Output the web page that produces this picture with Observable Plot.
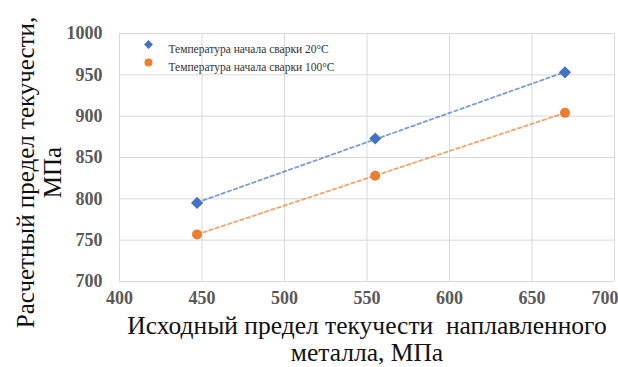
<!DOCTYPE html>
<html>
<head>
<meta charset="utf-8">
<script src="https://cdn.jsdelivr.net/npm/d3@7"></script>
<script src="https://cdn.jsdelivr.net/npm/@observablehq/plot@0.6"></script>
<style>
  html, body { margin: 0; padding: 0; background: #fff; }
</style>
</head>
<body>
<div id="chart"></div>
<script>
const seriesNames = ["Температура начала сварки 20°С", "Температура начала сварки 100°С"];
const xValues = [447, 555, 670];
const series20 = [795, 873, 953];
const series100 = [757, 828, 904];
const xTicks = [400, 450, 500, 550, 600, 650, 700];
const yTicks = [700, 750, 800, 850, 900, 950, 1000];
const yLabel = "Расчетный предел текучести,\nМПа";
const xLabel = "Исходный предел текучести  наплавленного\nметалла, МПа";
const colors = ["#4472C4", "#ED7D31"];

const data = [
  ...xValues.map((x, i) => ({x, y: series20[i], s: seriesNames[0]})),
  ...xValues.map((x, i) => ({x, y: series100[i], s: seriesNames[1]}))
];
const d20 = data.filter(d => d.s === seriesNames[0]);
const d100 = data.filter(d => d.s === seriesNames[1]);

const serif = "Liberation Serif, Times New Roman, Times, serif";
const lastX = xTicks[xTicks.length - 1];

const chart = Plot.plot({
  width: 618,
  height: 367,
  marginLeft: 119,
  marginRight: 4,
  marginTop: 33,
  marginBottom: 86,
  style: {fontFamily: serif, background: "#fff"},
  x: {domain: [400, 700], axis: null},
  y: {domain: [700, 1000], axis: null},
  marks: [
    Plot.gridX(xTicks, {stroke: "#d9d9d9", strokeOpacity: 1, strokeWidth: 1}),
    Plot.gridY(yTicks, {stroke: "#d9d9d9", strokeOpacity: 1, strokeWidth: 1}),
    // tick labels
    Plot.text(xTicks.filter(t => t !== lastX), {x: d => d, frameAnchor: "bottom", dy: 10, lineAnchor: "top", text: d => String(d), fontSize: 18, fontWeight: 600, fontFamily: serif, fill: "#595959"}),
    Plot.text([lastX], {x: d => d, frameAnchor: "bottom", dy: 10, dx: 4, lineAnchor: "top", textAnchor: "end", text: d => String(d), fontSize: 18, fontWeight: 600, fontFamily: serif, fill: "#595959"}),
    Plot.text(yTicks, {y: d => d, frameAnchor: "left", dx: -17, textAnchor: "end", text: d => String(d), fontSize: 18, fontWeight: 600, fontFamily: serif, fill: "#595959"}),
    Plot.linearRegressionY(d20, {x: "x", y: "y", ci: 0, stroke: colors[0], strokeWidth: 1.8, strokeDasharray: "3.5,3", strokeOpacity: 0.7}),
    Plot.linearRegressionY(d100, {x: "x", y: "y", ci: 0, stroke: colors[1], strokeWidth: 1.8, strokeDasharray: "3.5,3", strokeOpacity: 0.7}),
    Plot.dot(d20, {x: "x", y: "y", symbol: "diamond2", r: 5.5, fill: colors[0], stroke: "none"}),
    Plot.dot(d100, {x: "x", y: "y", symbol: "circle", r: 5, fill: colors[1], stroke: "none"}),
    // legend
    Plot.dot([seriesNames[0]], {frameAnchor: "top-left", dx: 29, dy: 11, symbol: "diamond2", r: 4, fill: colors[0]}),
    Plot.dot([seriesNames[1]], {frameAnchor: "top-left", dx: 29, dy: 29, symbol: "circle", r: 4, fill: colors[1]}),
    Plot.text([seriesNames[0]], {frameAnchor: "top-left", dx: 49, dy: 11, text: d => d, textAnchor: "start", fontSize: 11.5, fontFamily: serif, fill: "#333"}),
    Plot.text([seriesNames[1]], {frameAnchor: "top-left", dx: 49, dy: 29, text: d => d, textAnchor: "start", fontSize: 11.5, fontFamily: serif, fill: "#333"}),
    // axis titles
    Plot.text([yLabel], {frameAnchor: "left", dx: -81, dy: 15, rotate: -90, text: d => d, textAnchor: "middle", lineAnchor: "middle", fontSize: 25, lineHeight: 1.08, fontFamily: serif, fill: "#111"}),
    Plot.text([xLabel], {frameAnchor: "bottom", dx: 0, dy: 34, text: d => d, textAnchor: "middle", lineAnchor: "top", fontSize: 25.5, lineHeight: 1.04, fontFamily: serif, fill: "#111"})
  ]
});
document.getElementById("chart").appendChild(chart);
</script>
</body>
</html>
